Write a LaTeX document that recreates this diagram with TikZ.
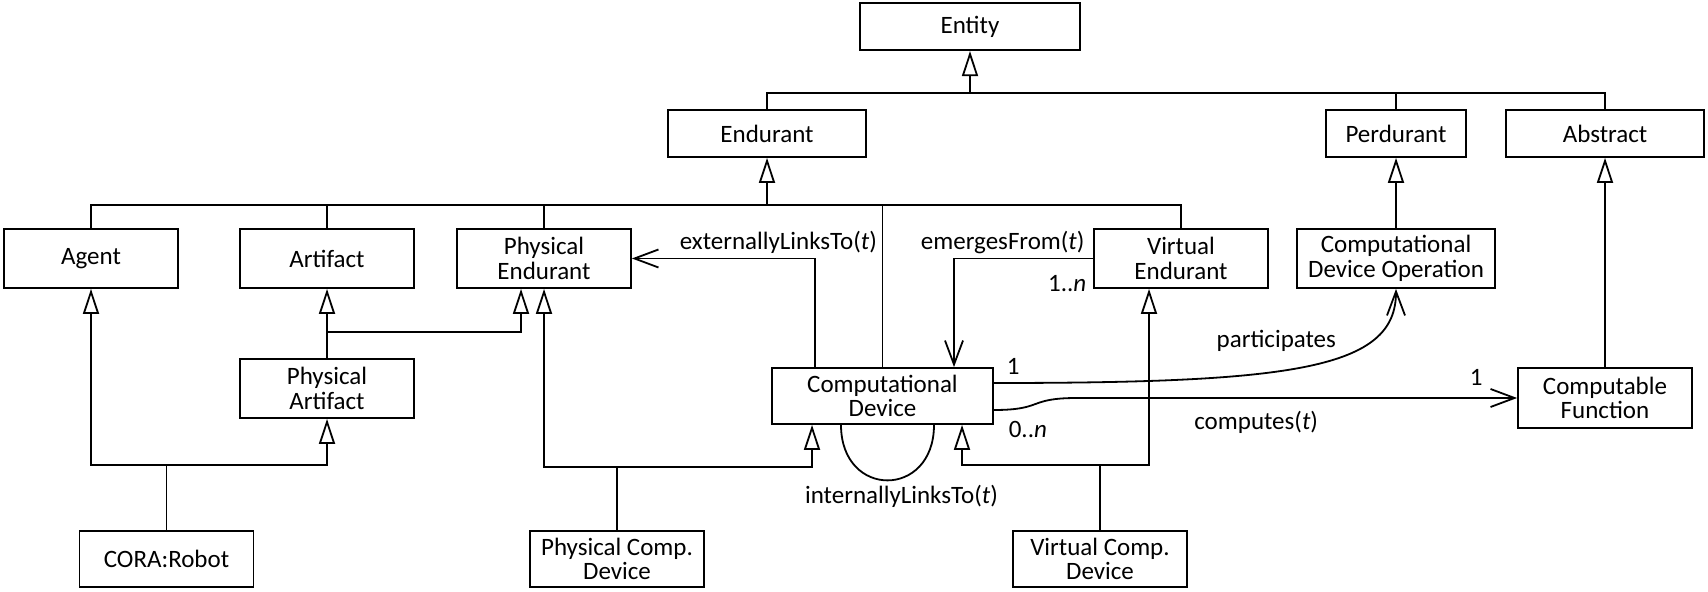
\documentclass[tikz,border=0pt]{standalone}
\usepackage{fontspec}
\setmainfont{Carlito}
\usepackage{tikz}
\usetikzlibrary{arrows.meta}

\begin{document}
\begin{tikzpicture}[x=0.5pt,y=-0.5pt,line width=0.9pt,
	font=\fontsize{12.5}{12.2}\selectfont,
	box/.style={draw,align=center,inner sep=0pt,minimum width=87pt,minimum height=29.5pt},
	lbl/.style={inner sep=2pt},
	gen/.style={-{Triangle[open,length=12.5pt,width=8pt]}},
	assoc/.style={-{Straight Barb[length=12pt,width=9pt]}}]
						\useasboundingbox (0,0) rectangle (1708,592);

						\node[box,minimum width=110pt,minimum height=23.5pt] (entity) at (970,26.7) {Entity};
						\node[box,minimum width=99pt,minimum height=23.5pt] (endurant) at (767,133.5) {Endurant};
						\node[box,minimum width=70pt,minimum height=23.5pt] (perdurant) at (1396,133.5) {Perdurant};
						\node[box,minimum width=99pt,minimum height=23.5pt] (abstract) at (1605,133.5) {Abstract};

						\node[box] (agent) at (91,258.5) {Agent};
						\node[box] (artifact) at (327,258.5) {Artifact};
						\node[box] (pe) at (544,258.5) {Physical\\Endurant};
						\node[box] (ve) at (1181,258.5) {Virtual\\Endurant};
						\node[box,minimum width=99pt] (cdo) at (1396,258.5) {Computational\\Device Operation};

						\node[box] (pa) at (327,388.5) {Physical\\Artifact};
						\node[box,minimum width=110.5pt,minimum height=28pt] (cd) at (882.5,396) {Computational\\Device};
						\node[box,minimum height=30pt] (cf) at (1605,398) {Computable\\Function};

						\node[box,minimum height=28pt] (robot) at (166.5,559) {CORA:Robot};
						\node[box,minimum height=28pt] (pcd) at (617,559) {Physical Comp.\\Device};
						\node[box,minimum height=28pt] (vcd) at (1100,559) {Virtual Comp.\\Device};

						\coordinate (topbus) at (970,92.7);
						\coordinate (endbus) at (767,205);
						\coordinate (pajoin) at (327,332);
						\coordinate (robotbus) at (166.5,465);
						\coordinate (pcdbus) at (617,467);
						\coordinate (vcdbus) at (1100,465);

						\draw[gen] (endurant.north) |- (topbus) -- (entity.south);
						\draw (perdurant.north) |- (topbus);
						\draw (abstract.north) |- (topbus);

						\draw[gen] (cd.north) |- (endbus) -- (endurant.south);
						\draw (agent.north) |- (endbus);
						\draw (artifact.north) |- (endbus);
						\draw (pe.north) |- (endbus);
						\draw (ve.north) |- (endbus);

						\draw[gen] (cdo.north) -- (perdurant.south);
						\draw[gen] (cf.north) -- (abstract.south);

						\draw[gen] (pa.north) -- (artifact.south);
						\draw[gen] (pajoin) -| ([xshift=-11.5pt]pe.south);

						\draw (robot.north) -- (robotbus);
						\draw[gen] (robotbus) -| (agent.south);
						\draw[gen] (robotbus) -| (pa.south);

						\draw (pcd.north) -- (pcdbus);
						\draw[gen] (pcdbus) -| (pe.south);
						\draw[gen] (pcdbus) -| ([xshift=-35.25pt]cd.south);

						\draw (vcd.north) -- (vcdbus);
						\draw[gen] (vcdbus) -| ([xshift=39.75pt]cd.south);
						\draw[gen] (vcdbus) -| ([xshift=-16pt]ve.south);

						\draw[assoc] ([xshift=-33.75pt]cd.north) |- (pe.east)
							node[lbl,pos=0.6,above] {externallyLinksTo(\textit{t})};
						\draw[assoc] (ve.west) -| ([xshift=35.75pt]cd.north)
							node[lbl,pos=0.325,above] {emergesFrom(\textit{t})}
							node[lbl,pos=0.093,below=6pt] {1..\textit{n}};
						\draw[assoc] ([yshift=6.5pt]cd.east)
							node[lbl,anchor=south west,xshift=4pt,yshift=2pt] {1}
							.. controls +(150pt,0) and +(0,-40pt) .. (cdo.south)
							node[lbl,pos=0.6,anchor=south east] {participates};
						\draw[assoc] ([yshift=-7pt]cd.east)
							node[lbl,anchor=north west,xshift=5pt,yshift=-3pt] {0..\textit{n}}
							.. controls +(25pt,0) and +(-25pt,0) .. ([xshift=-220pt]cf.west) -- (cf.west)
							node[lbl,pos=0.407,below=4pt] {computes(\textit{t})}
							node[lbl,pos=0.907,above=4pt] {1};
						\draw ([xshift=-20.75pt]cd.south) .. controls +(0,-37pt) and +(0,-37pt) .. ([xshift=25.75pt]cd.south)
							node[lbl,pos=0.5,below,xshift=7pt] {internallyLinksTo(\textit{t})};
					\end{tikzpicture}
\end{document}
